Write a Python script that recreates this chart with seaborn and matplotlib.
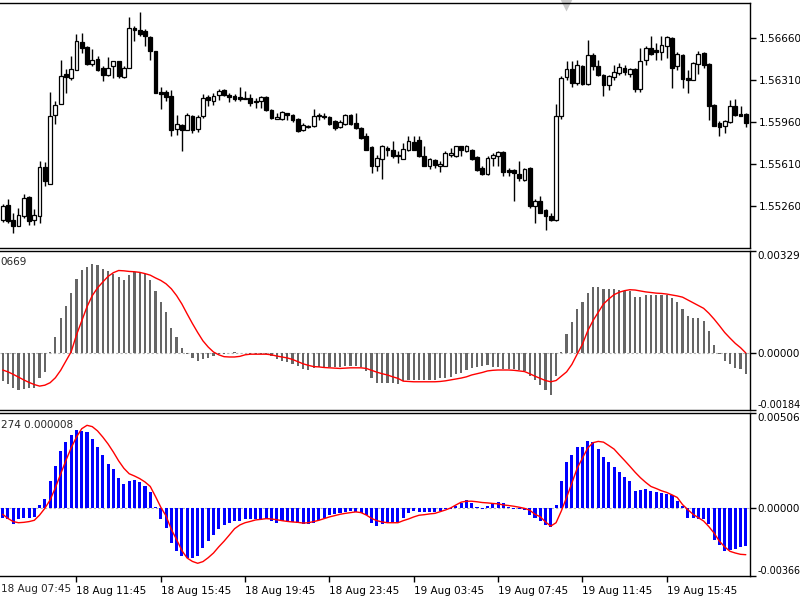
import numpy as np
import pandas as pd
import seaborn as sns
import matplotlib.pyplot as plt

# 15 minute bars, 18 Aug 08:15 .. 19 Aug 19:30
times = pd.date_range("2015-08-18 08:15", periods=142, freq="15min")

opens = [1.55138, 1.55268, 1.55143, 1.55093, 1.55171, 1.55329, 1.55143, 1.55177, 1.55579, 1.55443,
         1.56018, 1.56110, 1.56360, 1.56324, 1.56393, 1.56621, 1.56579, 1.56443, 1.56482, 1.56407,
         1.56352, 1.56421, 1.56463, 1.56332, 1.56407, 1.56741, 1.56727, 1.56713, 1.56666, 1.56546,
         1.56204, 1.56204, 1.56171, 1.55899, 1.55935, 1.55893, 1.56010, 1.55899, 1.56004, 1.56166,
         1.56129, 1.56179, 1.56227, 1.56185, 1.56177, 1.56166, 1.56149, 1.56157, 1.56135, 1.56129,
         1.56166, 1.56060, 1.55982, 1.55982, 1.56032, 1.56018, 1.55982, 1.55888, 1.55927, 1.55921,
         1.56004, 1.56010, 1.55999, 1.55963, 1.55916, 1.55943, 1.56018, 1.55949, 1.55907, 1.55838,
         1.55749, 1.55593, 1.55649, 1.55741, 1.55721, 1.55685, 1.55649, 1.55727, 1.55788, 1.55810,
         1.55677, 1.55593, 1.55643, 1.55593, 1.55593, 1.55685, 1.55671, 1.55754, 1.55713, 1.55727,
         1.55666, 1.55574, 1.55527, 1.55657, 1.55671, 1.55704, 1.55554, 1.55554, 1.55527, 1.55477,
         1.55574, 1.55260, 1.55296, 1.55227, 1.55177, 1.55138, 1.56004, 1.56332, 1.56399, 1.56282,
         1.56427, 1.56277, 1.56518, 1.56427, 1.56352, 1.56268, 1.56332, 1.56366, 1.56407, 1.56360,
         1.56399, 1.56232, 1.56471, 1.56574, 1.56560, 1.56538, 1.56593, 1.56657, 1.56427, 1.56518,
         1.56324, 1.56310, 1.56443, 1.56532, 1.56443, 1.56102, 1.55949, 1.55921, 1.55954, 1.56093,
         1.56024, 1.56024]
highs = [1.55277, 1.55316, 1.55199, 1.55241, 1.55360, 1.55338, 1.55232, 1.55629, 1.55621, 1.56204,
         1.56129, 1.56477, 1.56399, 1.56510, 1.56693, 1.56699, 1.56588, 1.56566, 1.56510, 1.56427,
         1.56499, 1.56468, 1.56468, 1.56427, 1.56832, 1.56760, 1.56871, 1.56732, 1.56671, 1.56550,
         1.56249, 1.56227, 1.56227, 1.56018, 1.55943, 1.56032, 1.56018, 1.56018, 1.56193, 1.56185,
         1.56199, 1.56232, 1.56232, 1.56199, 1.56191, 1.56249, 1.56213, 1.56193, 1.56157, 1.56171,
         1.56171, 1.56066, 1.56032, 1.56046, 1.56034, 1.56024, 1.55991, 1.55949, 1.55932, 1.56066,
         1.56032, 1.56032, 1.56004, 1.55977, 1.55977, 1.56027, 1.56027, 1.56032, 1.55913, 1.55866,
         1.55754, 1.55685, 1.55768, 1.55754, 1.55796, 1.55713, 1.55782, 1.55838, 1.55838, 1.55843,
         1.55754, 1.55657, 1.55649, 1.55629, 1.55713, 1.55741, 1.55756, 1.55760, 1.55768, 1.55732,
         1.55677, 1.55588, 1.55671, 1.55699, 1.55713, 1.55713, 1.55574, 1.55566, 1.55629, 1.55574,
         1.55578, 1.55316, 1.55338, 1.55232, 1.55199, 1.56107, 1.56343, 1.56463, 1.56463, 1.56477,
         1.56435, 1.56643, 1.56532, 1.56471, 1.56360, 1.56352, 1.56435, 1.56449, 1.56435, 1.56407,
         1.56407, 1.56574, 1.56588, 1.56677, 1.56616, 1.56677, 1.56677, 1.56666, 1.56538, 1.56527,
         1.56393, 1.56454, 1.56546, 1.56538, 1.56449, 1.56105, 1.55963, 1.55971, 1.56143, 1.56149,
         1.56088, 1.56032]
lows = [1.55121, 1.55116, 1.55032, 1.55088, 1.55157, 1.55102, 1.55102, 1.55116, 1.55421, 1.55443,
        1.55943, 1.56110, 1.56199, 1.56310, 1.56393, 1.56532, 1.56435, 1.56421, 1.56379, 1.56296,
        1.56338, 1.56324, 1.56324, 1.56324, 1.56407, 1.56629, 1.56677, 1.56588, 1.56477, 1.56195,
        1.56066, 1.56129, 1.55843, 1.55852, 1.55713, 1.55888, 1.55866, 1.55871, 1.55991, 1.56088,
        1.56102, 1.56143, 1.56171, 1.56121, 1.56129, 1.56129, 1.56147, 1.56093, 1.56074, 1.56074,
        1.56046, 1.55982, 1.55980, 1.55977, 1.55971, 1.55954, 1.55876, 1.55879, 1.55907, 1.55916,
        1.55977, 1.55982, 1.55935, 1.55893, 1.55907, 1.55935, 1.55935, 1.55899, 1.55816, 1.55721,
        1.55532, 1.55546, 1.55482, 1.55671, 1.55657, 1.55616, 1.55645, 1.55713, 1.55721, 1.55668,
        1.55588, 1.55566, 1.55574, 1.55538, 1.55588, 1.55666, 1.55666, 1.55671, 1.55704, 1.55638,
        1.55546, 1.55518, 1.55518, 1.55588, 1.55588, 1.55510, 1.55504, 1.55296, 1.55463, 1.55463,
        1.55241, 1.55116, 1.55195, 1.55060, 1.55129, 1.55129, 1.55982, 1.56310, 1.56249, 1.56268,
        1.56268, 1.56268, 1.56393, 1.56343, 1.56171, 1.56221, 1.56310, 1.56352, 1.56352, 1.56332,
        1.56204, 1.56204, 1.56435, 1.56518, 1.56477, 1.56477, 1.56491, 1.56241, 1.56393, 1.56241,
        1.56199, 1.56304, 1.56360, 1.56407, 1.55971, 1.55921, 1.55838, 1.55866, 1.55949, 1.56010,
        1.56004, 1.55916]
closes = [1.55254, 1.55129, 1.55088, 1.55185, 1.55324, 1.55129, 1.55185, 1.55582, 1.55463, 1.56004,
          1.56102, 1.56343, 1.56332, 1.56399, 1.56629, 1.56574, 1.56441, 1.56477, 1.56393, 1.56352,
          1.56407, 1.56463, 1.56338, 1.56407, 1.56741, 1.56721, 1.56693, 1.56671, 1.56546, 1.56199,
          1.56193, 1.56166, 1.55888, 1.55941, 1.55893, 1.56018, 1.55888, 1.55999, 1.56157, 1.56143,
          1.56177, 1.56218, 1.56185, 1.56166, 1.56149, 1.56152, 1.56157, 1.56116, 1.56121, 1.56166,
          1.56054, 1.55991, 1.55999, 1.56038, 1.56018, 1.55977, 1.55879, 1.55935, 1.55916, 1.56004,
          1.56016, 1.55999, 1.55943, 1.55907, 1.55954, 1.56018, 1.55943, 1.55907, 1.55824, 1.55727,
          1.55593, 1.55657, 1.55754, 1.55727, 1.55677, 1.55671, 1.55732, 1.55796, 1.55727, 1.55671,
          1.55593, 1.55649, 1.55602, 1.55610, 1.55699, 1.55699, 1.55754, 1.55727, 1.55760, 1.55649,
          1.55560, 1.55527, 1.55657, 1.55685, 1.55704, 1.55538, 1.55538, 1.55532, 1.55491, 1.55566,
          1.55254, 1.55296, 1.55199, 1.55171, 1.55143, 1.56010, 1.56324, 1.56399, 1.56282, 1.56435,
          1.56277, 1.56518, 1.56421, 1.56352, 1.56268, 1.56338, 1.56371, 1.56416, 1.56371, 1.56399,
          1.56232, 1.56468, 1.56574, 1.56527, 1.56538, 1.56602, 1.56666, 1.56407, 1.56527, 1.56316,
          1.56304, 1.56449, 1.56527, 1.56435, 1.56093, 1.55927, 1.55916, 1.55963, 1.56093, 1.56018,
          1.56010, 1.55949]

# MACD panel: grey histogram + red signal
macd_hist = [-0.00091, -0.00100, -0.00113, -0.00121, -0.00115, -0.00113, -0.00113, -0.00080, -0.00061, 0.00002,
             0.00050, 0.00112, 0.00153, 0.00193, 0.00239, 0.00269, 0.00277, 0.00286, 0.00283, 0.00272,
             0.00264, 0.00256, 0.00245, 0.00234, 0.00253, 0.00261, 0.00261, 0.00256, 0.00234, 0.00201,
             0.00164, 0.00131, 0.00080, 0.00050, 0.00015, -0.00002, -0.00017, -0.00026, -0.00021, -0.00015,
             -0.00010, -0.00004, -0.00002, 0.00001, 0.00002, 0.00001, -0.00001, -0.00002, -0.00003, -0.00002,
             -0.00004, -0.00010, -0.00021, -0.00026, -0.00028, -0.00035, -0.00042, -0.00053, -0.00056, -0.00050,
             -0.00045, -0.00045, -0.00045, -0.00045, -0.00045, -0.00042, -0.00042, -0.00042, -0.00045, -0.00058,
             -0.00082, -0.00096, -0.00096, -0.00096, -0.00096, -0.00100, -0.00091, -0.00086, -0.00086, -0.00086,
             -0.00086, -0.00086, -0.00086, -0.00080, -0.00080, -0.00078, -0.00069, -0.00064, -0.00056, -0.00050,
             -0.00045, -0.00042, -0.00039, -0.00045, -0.00045, -0.00053, -0.00053, -0.00053, -0.00056, -0.00058,
             -0.00075, -0.00086, -0.00102, -0.00118, -0.00136, -0.00075, 0.00002, 0.00061, 0.00099, 0.00142,
             0.00164, 0.00193, 0.00212, 0.00214, 0.00207, 0.00207, 0.00207, 0.00204, 0.00201, 0.00199,
             0.00180, 0.00182, 0.00188, 0.00188, 0.00188, 0.00188, 0.00188, 0.00178, 0.00164, 0.00142,
             0.00120, 0.00112, 0.00112, 0.00102, 0.00071, 0.00026, -0.00002, -0.00026, -0.00037, -0.00048,
             -0.00053, -0.00067]
macd_signal = [-0.00055, -0.00061, -0.00069, -0.00078, -0.00087, -0.00095, -0.00102, -0.00107, -0.00104, -0.00096,
               -0.00080, -0.00056, -0.00026, 0.00004, 0.00058, 0.00104, 0.00149, 0.00185, 0.00210, 0.00229,
               0.00247, 0.00259, 0.00266, 0.00265, 0.00263, 0.00262, 0.00260, 0.00256, 0.00251, 0.00242,
               0.00234, 0.00223, 0.00207, 0.00185, 0.00158, 0.00126, 0.00095, 0.00066, 0.00039, 0.00019,
               0.00003, -0.00006, -0.00012, -0.00013, -0.00013, -0.00011, -0.00006, -0.00004, -0.00004, -0.00004,
               -0.00004, -0.00006, -0.00010, -0.00013, -0.00016, -0.00021, -0.00028, -0.00035, -0.00040, -0.00044,
               -0.00045, -0.00047, -0.00048, -0.00049, -0.00050, -0.00049, -0.00048, -0.00048, -0.00048, -0.00050,
               -0.00056, -0.00062, -0.00067, -0.00071, -0.00077, -0.00082, -0.00091, -0.00092, -0.00093, -0.00093,
               -0.00093, -0.00093, -0.00093, -0.00092, -0.00090, -0.00087, -0.00084, -0.00081, -0.00077, -0.00071,
               -0.00067, -0.00063, -0.00058, -0.00056, -0.00055, -0.00055, -0.00055, -0.00056, -0.00058, -0.00060,
               -0.00067, -0.00075, -0.00082, -0.00089, -0.00093, -0.00089, -0.00075, -0.00061, -0.00037, -0.00004,
               0.00028, 0.00071, 0.00104, 0.00131, 0.00158, 0.00174, 0.00188, 0.00196, 0.00201, 0.00204,
               0.00203, 0.00200, 0.00197, 0.00195, 0.00193, 0.00192, 0.00190, 0.00187, 0.00184, 0.00180,
               0.00171, 0.00162, 0.00153, 0.00144, 0.00128, 0.00109, 0.00088, 0.00066, 0.00048, 0.00031,
               0.00017, 0.00000]

# second oscillator: blue histogram + red line
osc_hist = [-0.00054, -0.00063, -0.00090, -0.00063, -0.00054, -0.00054, -0.00049, 0.00013, 0.00045, 0.00144,
            0.00221, 0.00305, 0.00350, 0.00386, 0.00413, 0.00408, 0.00404, 0.00368, 0.00323, 0.00279,
            0.00234, 0.00207, 0.00156, 0.00126, 0.00144, 0.00149, 0.00138, 0.00117, 0.00081, 0.00001,
            -0.00063, -0.00108, -0.00189, -0.00234, -0.00261, -0.00270, -0.00270, -0.00257, -0.00216, -0.00180,
            -0.00149, -0.00117, -0.00095, -0.00081, -0.00072, -0.00072, -0.00063, -0.00059, -0.00059, -0.00059,
            -0.00059, -0.00072, -0.00081, -0.00072, -0.00072, -0.00077, -0.00081, -0.00090, -0.00090, -0.00081,
            -0.00066, -0.00054, -0.00041, -0.00036, -0.00027, -0.00023, -0.00018, -0.00023, -0.00027, -0.00041,
            -0.00081, -0.00099, -0.00090, -0.00081, -0.00077, -0.00077, -0.00054, -0.00027, -0.00018, -0.00023,
            -0.00023, -0.00023, -0.00023, -0.00018, -0.00009, -0.00005, 0.00009, 0.00023, 0.00041, 0.00027,
            0.00005, -0.00005, 0.00009, 0.00023, 0.00031, 0.00023, 0.00005, -0.00005, -0.00009, -0.00013,
            -0.00041, -0.00054, -0.00072, -0.00095, -0.00102, 0.00013, 0.00144, 0.00243, 0.00282, 0.00323,
            0.00323, 0.00354, 0.00350, 0.00311, 0.00270, 0.00243, 0.00216, 0.00189, 0.00162, 0.00144,
            0.00090, 0.00095, 0.00099, 0.00090, 0.00081, 0.00077, 0.00072, 0.00066, 0.00036, 0.00009,
            -0.00054, -0.00054, -0.00059, -0.00063, -0.00090, -0.00171, -0.00198, -0.00234, -0.00225, -0.00221,
            -0.00210, -0.00203]
osc_signal = [-0.00036, -0.00058, -0.00075, -0.00081, -0.00079, -0.00075, -0.00068, -0.00040, -0.00004, 0.00041,
              0.00106, 0.00180, 0.00252, 0.00320, 0.00377, 0.00422, 0.00440, 0.00433, 0.00410, 0.00377,
              0.00340, 0.00297, 0.00250, 0.00210, 0.00181, 0.00169, 0.00155, 0.00137, 0.00113, 0.00059,
              0.00002, -0.00045, -0.00117, -0.00171, -0.00230, -0.00270, -0.00288, -0.00298, -0.00289, -0.00268,
              -0.00243, -0.00210, -0.00180, -0.00147, -0.00113, -0.00093, -0.00081, -0.00074, -0.00066, -0.00063,
              -0.00059, -0.00061, -0.00065, -0.00070, -0.00074, -0.00077, -0.00079, -0.00083, -0.00081, -0.00075,
              -0.00068, -0.00059, -0.00050, -0.00043, -0.00036, -0.00031, -0.00027, -0.00023, -0.00027, -0.00040,
              -0.00058, -0.00070, -0.00077, -0.00081, -0.00081, -0.00081, -0.00070, -0.00061, -0.00050, -0.00041,
              -0.00038, -0.00034, -0.00031, -0.00022, -0.00013, -0.00002, 0.00014, 0.00029, 0.00034, 0.00034,
              0.00031, 0.00027, 0.00025, 0.00022, 0.00020, 0.00014, 0.00011, 0.00007, 0.00002, -0.00004,
              -0.00014, -0.00036, -0.00049, -0.00077, -0.00099, -0.00081, -0.00018, 0.00054, 0.00131, 0.00210,
              0.00264, 0.00318, 0.00347, 0.00354, 0.00350, 0.00332, 0.00313, 0.00282, 0.00252, 0.00221,
              0.00189, 0.00160, 0.00135, 0.00113, 0.00102, 0.00090, 0.00081, 0.00068, 0.00054, 0.00016,
              -0.00011, -0.00036, -0.00054, -0.00072, -0.00102, -0.00137, -0.00180, -0.00210, -0.00234, -0.00243,
              -0.00250, -0.00252]

price_ticks = [1.55260, 1.55610, 1.55960, 1.56310, 1.56660]
macd_ticks = [-0.00184, 0.0, 0.00329]
osc_ticks = [-0.00366, 0.0, 0.00506]
macd_label = "0669"
osc_label = "274 0.000008"

sns.set_style("white")
plt.rcParams['font.family'] = ['DejaVu Sans']

o = np.array(opens)
h = np.array(highs)
l = np.array(lows)
c = np.array(closes)
idx = np.arange(len(c))
up = c >= o

fig = plt.figure(figsize=(8, 6), dpi=100)
ax1 = fig.add_axes([0.0, 0.5867, 0.9375, 0.4083])
ax2 = fig.add_axes([0.0, 0.3167, 0.9375, 0.2650])
ax3 = fig.add_axes([0.0, 0.0400, 0.9375, 0.2717])

# candles
ax1.vlines(idx, l, h, color='black', lw=1, zorder=2)
ax1.bar(idx[up], (c - o)[up], bottom=o[up], width=0.72, color='white',
        edgecolor='black', linewidth=0.9, zorder=3)
ax1.bar(idx[~up], (c - o)[~up], bottom=o[~up], width=0.72, color='black',
        edgecolor='black', linewidth=0.9, zorder=3)
ax1.set_ylim(1.54907, 1.56949)
ax1.set_yticks(price_ticks)
ax1.set_yticklabels([f"{v:.5f}" for v in price_ticks])
ax1.plot(0.755, 0.99, marker='v', ms=8, color='#c8c8c8', mec='none',
         transform=ax1.transAxes, clip_on=False)

# MACD
ax2.axhline(0, color='#b4b4b4', lw=0.8, ls=(0, (2, 2)), zorder=0)
ax2.bar(idx, macd_hist, width=0.42, color='#666666', linewidth=0,
        antialiased=False, zorder=2)
sns.lineplot(x=idx, y=macd_signal, color='red', lw=1, ax=ax2, zorder=3)
ax2.set_ylim(macd_ticks[0], macd_ticks[-1])
ax2.set_yticks(macd_ticks)
ax2.set_yticklabels([f"{v:.5f}" for v in macd_ticks])
ax2.text(0.001, 0.93, macd_label, transform=ax2.transAxes, fontsize=7.5,
         va='center', ha='left')

# second oscillator
ax3.axhline(0, color='#b4b4b4', lw=0.8, ls=(0, (2, 2)), zorder=0)
ax3.bar(idx, osc_hist, width=0.58, color='#0000ff', linewidth=0,
        antialiased=False, zorder=2)
sns.lineplot(x=idx, y=osc_signal, color='red', lw=1, ax=ax3, zorder=3)
ax3.set_ylim(osc_ticks[0], osc_ticks[-1])
ax3.set_yticks(osc_ticks)
ax3.set_yticklabels([f"{v:.5f}" for v in osc_ticks])
ax3.text(0.001, 0.925, osc_label, transform=ax3.transAxes, fontsize=7.5,
         va='center', ha='left')

# time axis: a label every 4 hours
tick_pos = [i for i, t in enumerate(times) if t.minute == 45 and t.hour % 4 == 3]
ax3.set_xticks(tick_pos)
ax3.set_xticklabels([times[i].strftime("%d %b %H:%M") for i in tick_pos], ha='left')
ax3.tick_params(axis='x', bottom=True, direction='out', length=4, width=1,
                colors='black', labelsize=7.5, pad=3)
first = times[0] - pd.Timedelta(minutes=30)
ax3.text(0.001, -0.052, first.strftime("%d %b %H:%M"), transform=ax3.transAxes,
         fontsize=7.5, ha='left', va='top')

for ax in (ax1, ax2, ax3):
    ax.set_xlim(-0.51, 141.8)
    ax.yaxis.tick_right()
    ax.tick_params(axis='y', right=True, left=False, direction='out', length=4,
                   width=1, colors='black', labelsize=7.5, pad=2)
    for side in ('top', 'bottom', 'right'):
        ax.spines[side].set_color('black')
        ax.spines[side].set_linewidth(1)
    ax.spines['left'].set_visible(False)
for ax in (ax1, ax2):
    ax.set_xticks([])

# end labels sit inside the panel; the negative ones are slightly smaller to fit
for ax in (ax2, ax3):
    labels = ax.get_yticklabels()
    labels[0].set_va('bottom')
    labels[0].set_fontsize(6.9)
    labels[-1].set_va('top')
    ax.tick_params(axis='y', pad=1.5)

fig.savefig("out.png", dpi=100)
